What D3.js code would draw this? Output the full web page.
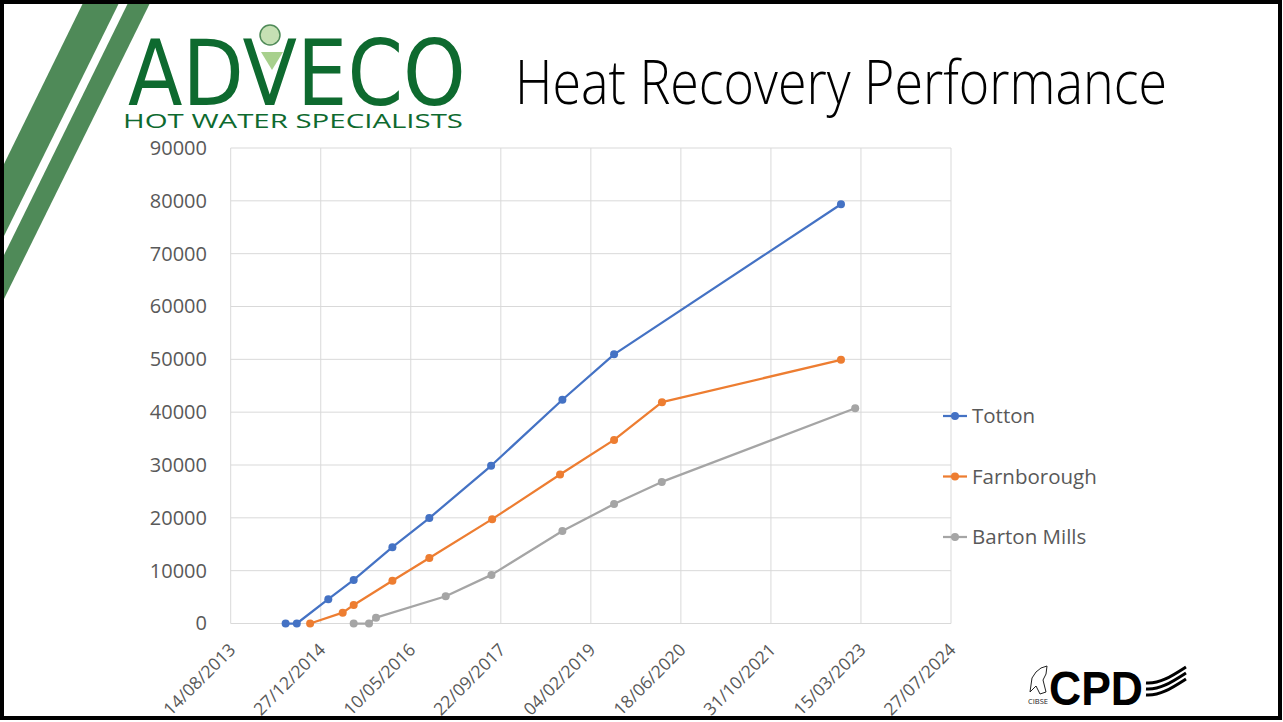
<!DOCTYPE html>
<html>
<head>
<meta charset="utf-8">
<script src="https://cdn.jsdelivr.net/npm/d3@7/dist/d3.min.js"></script>
<style>
  html, body { margin: 0; padding: 0; background: #fff; }
  svg { display: block; }
  text { font-family: "Open Sans", "Noto Sans", sans-serif; }
</style>
</head>
<body>
<svg id="chart" width="1283" height="722"></svg>
<script>
// series names and colours
var seriesNames = ["Totton", "Farnborough", "Barton Mills"];
var seriesColors = ["#4472c4", "#ed7d31", "#a5a5a5"];

// dates and values
var tottonDates = ["2014-06-15", "2014-08-16", "2015-02-07", "2015-06-28", "2016-01-29",
  "2016-08-21", "2017-07-30", "2018-08-30", "2019-06-13", "2022-11-24"];
var tottonValues = [0, 0, 4600, 8250, 14450, 19950, 29850, 42350, 50950, 79350];

var farnDates = ["2014-10-29", "2015-04-28", "2015-06-28", "2016-01-29", "2016-08-21",
  "2017-08-05", "2018-08-17", "2019-06-13", "2020-03-05", "2022-11-24"];
var farnValues = [0, 2050, 3500, 8100, 12400, 19750, 28200, 34750, 41900, 49900];

var bartonDates = ["2015-06-28", "2015-09-21", "2015-10-30", "2016-11-20", "2017-08-01",
  "2018-08-30", "2019-06-13", "2020-03-04", "2023-02-11"];
var bartonValues = [0, 0, 1100, 5150, 9200, 17500, 22600, 26800, 40750];

// axis ticks
var xTickStrings = ["2013-08-14", "2014-12-27", "2016-05-10", "2017-09-22", "2019-02-04",
  "2020-06-18", "2021-10-31", "2023-03-15", "2024-07-27"];
var yTicks = [0, 10000, 20000, 30000, 40000, 50000, 60000, 70000, 80000, 90000];

var parse = d3.timeParse("%Y-%m-%d");
var fmt = d3.timeFormat("%d/%m/%Y");

function makeSeries(dates, values) {
  return dates.map(function (d, i) { return {date: parse(d), value: values[i]}; });
}
var series = [
  makeSeries(tottonDates, tottonValues),
  makeSeries(farnDates, farnValues),
  makeSeries(bartonDates, bartonValues)
];

var svg = d3.select("#chart");
var xTicks = xTickStrings.map(parse);

var x = d3.scaleTime()
  .domain([xTicks[0], xTicks[xTicks.length - 1]])
  .range([230.7, 951]);
var y = d3.scaleLinear()
  .domain([0, 90000])
  .range([623.5, 148]);

// decorative green stripes top-left
var stripeColor = "#4f8a58";
svg.append("path")
  .attr("d", "M83,3 L119,3 L3,238 L3,166 Z")
  .attr("fill", stripeColor);
svg.append("path")
  .attr("d", "M128,3 L150,3 L3,301 L3,257 Z")
  .attr("fill", stripeColor);

// ADVECO logo
var logoGreen = "#0e6a2f";
var logo = svg.append("g").attr("class", "logo");
logo.append("text")
  .attr("transform", "translate(128,105) scale(0.876,1)")
  .style("font-family", "'DejaVu Sans', sans-serif")
  .style("font-size", "91px")
  .style("fill", logoGreen)
  .text("ADVECO");
logo.append("path")
  .attr("d", "M261,52 L283,52 L272,70 Z")
  .attr("fill", "#a8d08d");
logo.append("circle")
  .attr("cx", 270).attr("cy", 35).attr("r", 10)
  .attr("fill", "#c6e0b4").attr("stroke", "#4f8a58").attr("stroke-width", 1.5);
logo.append("text")
  .attr("x", 123).attr("y", 128)
  .attr("textLength", 340)
  .attr("lengthAdjust", "spacingAndGlyphs")
  .style("font-size", "20px")
  .style("fill", logoGreen)
  .text("HOT WATER SPECIALISTS");

// title
svg.append("text")
  .attr("x", 515).attr("y", 104)
  .attr("textLength", 652)
  .attr("lengthAdjust", "spacingAndGlyphs")
  .style("font-size", "60px")
  .style("font-weight", 300)
  .style("fill", "#000")
  .text("Heat Recovery Performance");

// gridlines
var grid = svg.append("g").attr("class", "grid");
grid.selectAll("line.h").data(yTicks).enter().append("line")
  .attr("class", "h")
  .attr("x1", x.range()[0]).attr("x2", x.range()[1])
  .attr("y1", function (d) { return y(d); })
  .attr("y2", function (d) { return y(d); })
  .attr("stroke", "#d9d9d9").attr("stroke-width", 1);
grid.selectAll("line.v").data(xTicks).enter().append("line")
  .attr("class", "v")
  .attr("y1", y.range()[0]).attr("y2", y.range()[1])
  .attr("x1", function (d) { return x(d); })
  .attr("x2", function (d) { return x(d); })
  .attr("stroke", "#d9d9d9").attr("stroke-width", 1);

// y axis labels
var yAxis = d3.axisLeft(y).tickValues(yTicks).tickSize(0).tickPadding(0)
  .tickFormat(d3.format("d"));
svg.append("g")
  .attr("transform", "translate(207,0)")
  .call(yAxis)
  .call(function (g) { g.select(".domain").remove(); })
  .selectAll("text")
  .style("font-family", "'Open Sans', sans-serif")
  .style("font-size", "20px")
  .style("fill", "#595959");

// x axis labels (rotated)
var xAxis = d3.axisBottom(x).tickValues(xTicks).tickSize(0).tickPadding(0)
  .tickFormat(fmt);
var xg = svg.append("g")
  .attr("transform", "translate(0,623.5)")
  .call(xAxis);
xg.select(".domain").remove();
xg.selectAll("text")
  .attr("y", 0).attr("dy", "0.35em")
  .attr("transform", "translate(1,23) rotate(-45)")
  .style("text-anchor", "end")
  .style("font-family", "'Open Sans', sans-serif")
  .style("font-size", "17.5px")
  .style("fill", "#595959");

// lines and markers
var line = d3.line()
  .x(function (d) { return x(d.date); })
  .y(function (d) { return y(d.value); });

series.forEach(function (s, i) {
  svg.append("path")
    .datum(s)
    .attr("d", line)
    .attr("fill", "none")
    .attr("stroke", seriesColors[i])
    .attr("stroke-width", 2.25)
    .attr("stroke-linejoin", "round");
  svg.append("g").selectAll("circle").data(s).enter().append("circle")
    .attr("cx", function (d) { return x(d.date); })
    .attr("cy", function (d) { return y(d.value); })
    .attr("r", 4)
    .attr("fill", seriesColors[i]);
});

// legend
var legend = svg.append("g").attr("class", "legend");
var legendY = [416, 476.5, 537];
seriesNames.forEach(function (name, i) {
  var g = legend.append("g").attr("transform", "translate(943," + legendY[i] + ")");
  g.append("line").attr("x1", 0).attr("x2", 24).attr("y1", 0).attr("y2", 0)
    .attr("stroke", seriesColors[i]).attr("stroke-width", 2.25);
  g.append("circle").attr("cx", 12).attr("cy", 0).attr("r", 4).attr("fill", seriesColors[i]);
  g.append("text").attr("x", 29).attr("y", 0).attr("dy", "0.35em")
    .style("font-size", "20.5px").style("fill", "#595959")
    .text(name);
});

// CIBSE CPD logo, bottom right
var cpd = svg.append("g").attr("class", "cpd");
cpd.append("text")
  .attr("x", 1049).attr("y", 705)
  .attr("textLength", 94)
  .attr("lengthAdjust", "spacingAndGlyphs")
  .style("font-family", "'Liberation Sans', Arial, sans-serif")
  .style("font-size", "48px")
  .style("font-weight", 700)
  .style("fill", "#000")
  .text("CPD");
[0, 6, 12].forEach(function (o) {
  cpd.append("path")
    .attr("d", "M1146," + (683 + o) + " C1160," + (684 + o) + " 1172," + (676 + o) + " 1186," + (667 + o))
    .attr("fill", "none").attr("stroke", "#000").attr("stroke-width", 3);
});
cpd.append("path")
  .attr("d", "M1030,692 L1032,678 L1036,672 L1041,668 L1047,666 L1046,674 L1043,680 L1046,692 L1040,694 L1036,686 Z")
  .attr("fill", "none").attr("stroke", "#222").attr("stroke-width", 1);
cpd.append("text")
  .attr("x", 1028).attr("y", 704)
  .attr("textLength", 20)
  .attr("lengthAdjust", "spacingAndGlyphs")
  .style("font-size", "8px").style("fill", "#222")
  .text("CIBSE");

// slide frame
svg.append("rect")
  .attr("x", 2).attr("y", 2).attr("width", 1278).attr("height", 716)
  .attr("fill", "none").attr("stroke", "#000").attr("stroke-width", 4);
</script>
</body>
</html>
